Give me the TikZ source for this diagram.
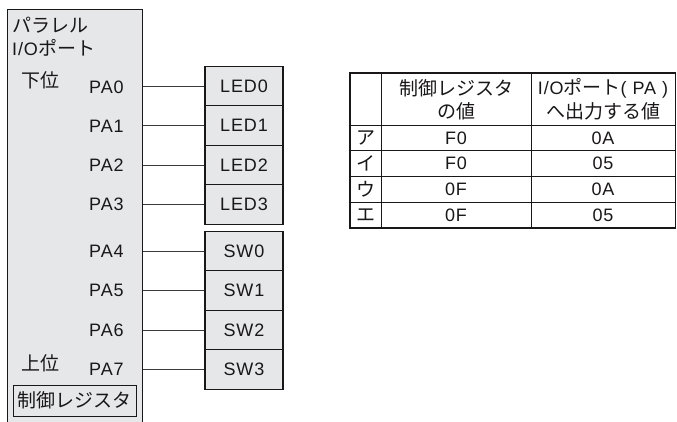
\documentclass[tikz,border=0pt]{standalone}
\usepackage{fontspec}
\setmainfont{Liberation Sans}[LetterSpace=5]
\newfontfamily\jp{Noto Sans CJK JP}
\definecolor{boxfill}{HTML}{E6E7E9}
\definecolor{edge}{HTML}{1A1718}
\definecolor{wire}{HTML}{3A3A3A}
\begin{document}
\begin{tikzpicture}[x=1pt,y=-1pt,
  txt/.style={inner sep=0pt,font=\fontsize{18}{20}\selectfont,text=edge},
  jtxt/.style={inner sep=0pt,font=\jp\fontsize{19}{21}\selectfont,text=edge},
  dev/.style={draw=edge,line width=1.1pt,fill=boxfill,minimum width=78pt,minimum height=39.5pt,inner sep=0pt,font=\fontsize{18}{20}\selectfont,text=edge},
  wireline/.style={draw=wire,line width=0.9pt},
  tbl/.style={draw=edge,line width=0.7pt},
  tblout/.style={draw=edge,line width=1.1pt}]
\useasboundingbox (0,0) rectangle (677,421);
\clip (0,0) rectangle (677,421);
% port box
\node[draw=edge,line width=1.1pt,fill=boxfill,anchor=north west,minimum width=135pt,minimum height=440pt,inner sep=0pt] (port) at (7,9) {};
\node[jtxt,anchor=west] (t1) at (12,25) {パラレル};
\node[jtxt,anchor=west] (t2) at (12,48) {\rmfamily\fontsize{18}{20}\selectfont I/O\jp\fontsize{19}{21}\selectfont ポート};
\node[jtxt,anchor=west] (lo) at (21,80) {下位};
\node[jtxt,anchor=west] (hi) at (21,363) {上位};
\node[jtxt,draw=edge,line width=0.9pt,minimum width=123pt,minimum height=31pt] (reg) at (74.5,400.5) {制御レジスタ};
% PA labels
\foreach \i/\y in {0/87,1/126,2/165,3/204,4/251,5/290,6/330,7/369}{
  \node[txt,anchor=west] (pa\i) at (89,\y) {PA\i};
}
% devices
\foreach \i/\y in {0/86,1/125.5,2/165,3/204.5}{
  \node[dev] (led\i) at (244,\y) {LED\i};
}
\foreach \i/\y in {0/251,1/290.5,2/330,3/369.5}{
  \node[dev] (sw\i) at (244,\y) {SW\i};
}
\foreach \i in {0,1,2,3}{
  \draw[wireline] (port.east |- led\i) -- (led\i.west);
}
\foreach \i in {0,1,2,3}{
  \draw[wireline] (port.east |- sw\i) -- (sw\i.west);
}
% table
\coordinate (tnw) at (350,73);
\coordinate (tse) at (675.5,228);
\draw[tbl] (381,73) -- (381,228);
\draw[tbl] (531,73) -- (531,228);
\foreach \y in {125,150,176,202}{
  \draw[tbl] (350,\y) -- (675.5,\y);
}
\draw[tblout] (tnw) rectangle (tse);
\node[jtxt] (h1a) at (456,88) {制御レジスタ};
\node[jtxt] (h1b) at (456,111) {の値};
\node[jtxt] (h2a) at (603,88) {\rmfamily\fontsize{18}{20}\selectfont I/O\jp\fontsize{19}{21}\selectfont ポート\rmfamily\fontsize{18}{20}\selectfont( PA )};
\node[jtxt] (h2b) at (603,111) {へ出力する値};
\foreach \k/\y/\a/\b/\c in {1/138/ア/F0/0A,2/163/イ/F0/05,3/189/ウ/0F/0A,4/215/エ/0F/05}{
  \node[jtxt] (r\k) at (365.5,\y) {\a};
  \node[txt] (r\k b) at (456,\y) {\b};
  \node[txt] (r\k c) at (603,\y) {\c};
}
\end{tikzpicture}
\end{document}
